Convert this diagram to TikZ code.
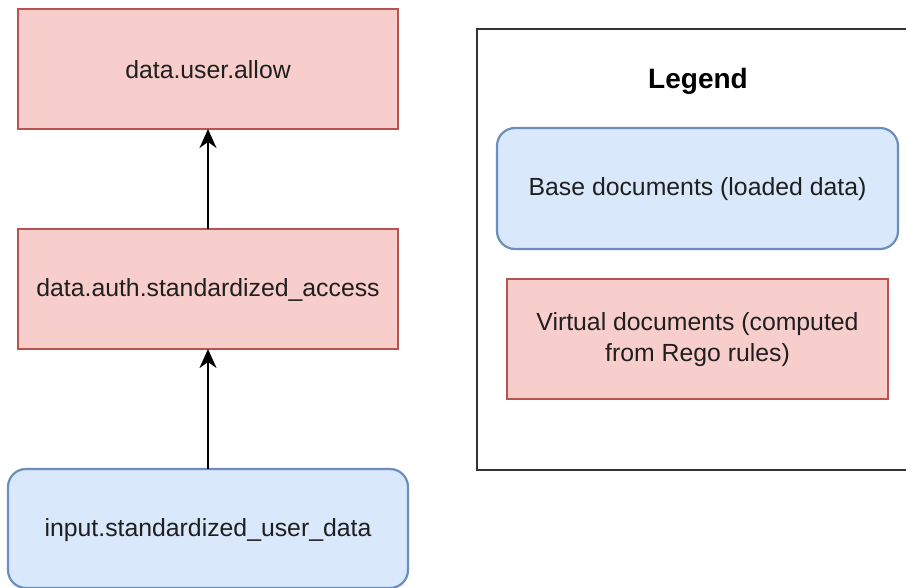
\documentclass[tikz,border=0pt]{standalone}
\usepackage{fontspec}
\setmainfont{Liberation Sans}
\usetikzlibrary{arrows.meta}
\definecolor{redfill}{HTML}{F8CECC}
\definecolor{redline}{HTML}{B85450}
\definecolor{bluefill}{HTML}{DAE8FC}
\definecolor{blueline}{HTML}{6C8EBF}
\definecolor{legline}{HTML}{333333}
\tikzset{
  txt/.style={font=\fontsize{24.8pt}{31pt}\selectfont, text=black!88, align=center},
  redbox/.style={draw=redline, fill=redfill, line width=2.2pt},
  bluebox/.style={draw=blueline, fill=bluefill, line width=2.2pt, rounded corners=18pt},
  conn/.style={line width=2pt, -{Stealth[length=19pt,width=17pt,inset=6pt]}},
}
\begin{document}
\begin{tikzpicture}[x=1pt,y=-1pt]
\useasboundingbox (0,0) rectangle (906,588);
% legend frame
\draw[draw=legline, line width=2.2pt] (477,29) rectangle (930,470);
\node[font=\bfseries\fontsize{28pt}{32pt}\selectfont] (legend) at (698,81) {Legend};
\draw[bluebox] (497,128) rectangle (898,249);
\node[txt] (base) at (697.5,189.5) {Base documents (loaded data)};
\draw[redbox] (507,279) rectangle (888,399);
\node[txt] (virt) at (697.5,340) {Virtual documents (computed\\from Rego rules)};
% main boxes
\draw[redbox] (18,9) rectangle (398,129);
\node[txt] (allow) at (208,70) {data.user.allow};
\coordinate (allowb) at (208,129);
\draw[redbox] (18,229) rectangle (398,349);
\node[txt] (access) at (208,290) {data.auth.standardized\_access};
\coordinate (accesst) at (208,229);
\coordinate (accessb) at (208,349);
\draw[bluebox] (8,469) rectangle (408,588);
\node[txt] (input) at (208,530) {input.standardized\_user\_data};
\coordinate (inputt) at (208,469);
% connectors
\draw[conn] (accesst) -- (allowb);
\draw[conn] (inputt) -- (accessb);
\end{tikzpicture}
\end{document}
